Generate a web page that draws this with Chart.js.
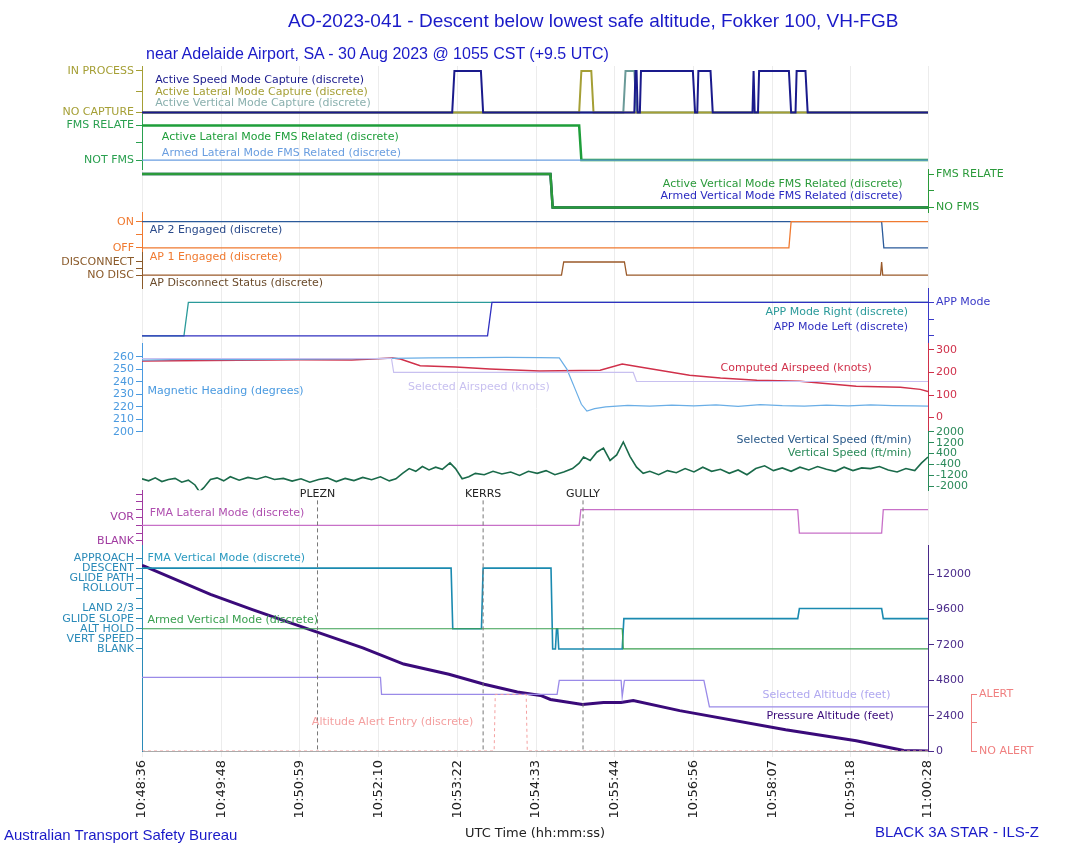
<!DOCTYPE html>
<html lang="en">
<head>
<meta charset="UTF-8" />
<title>AO-2023-041</title>
<script src="https://cdn.jsdelivr.net/npm/chart.js@4.4.0/dist/chart.umd.min.js"></script>
<style>
  body { margin: 0; background: #fff; }
  #wrap { position: relative; width: 1090px; height: 849px; }
  canvas { position: absolute; left: 0; top: 0; }
  .t { position: absolute; font-family: 'Liberation Sans', Arial, sans-serif; color: #1a1ac8; white-space: nowrap; }
</style>
</head>
<body>
<div id="wrap">
  <canvas id="chart" width="1090" height="849"></canvas>
  <div class="t" style="left:288px;top:10px;font-size:19px;">AO-2023-041 - Descent below lowest safe altitude, Fokker 100, VH-FGB</div>
  <div class="t" style="left:146px;top:45px;font-size:16px;">near Adelaide Airport, SA - 30 Aug 2023 @ 1055 CST (+9.5 UTC)</div>
  <div class="t" style="left:4px;top:826px;font-size:15px;">Australian Transport Safety Bureau</div>
  <div class="t" style="left:875px;top:823px;font-size:15px;">BLACK 3A STAR - ILS-Z</div>
</div>
<script>
// time in seconds after 10:48:36 UTC
const xTicks = [0, 72, 143, 214, 286, 357, 428, 500, 571, 642, 712];

// discrete captures (0 = NO CAPTURE, 1 = IN PROCESS)
const spdCapT = [0, 281, 283, 307, 309, 446, 447, 448, 449, 451, 452, 499, 501, 503, 504, 515, 517, 553, 554, 555, 558, 559, 586, 588, 592, 593, 601, 603, 712];
const spdCapV = [0, 0, 1, 1, 0, 0, 1, 1, 0, 0, 1, 1, 0, 0, 1, 1, 0, 0, 1, 0, 0, 1, 1, 0, 0, 1, 1, 0, 0];
const latCapT = [0, 396, 398, 407, 409, 712];
const latCapV = [0, 0, 1, 1, 0, 0];
const vrtCapT = [0, 436, 438, 446, 448, 712];
const vrtCapV = [0, 0, 1, 1, 0, 0];

// FMS related
const fmsLatT = [0, 396, 398, 712];
const fmsLatV = [1, 1, 0, 0];
const fmsLatArmV = [0, 0, 0, 0];
const fmsVrtT = [0, 370, 372, 712];
const fmsVrtV = [1, 1, 0, 0];

// autopilot
const ap2T = [0, 670, 672, 712];
const ap2V = [1, 1, 0, 0];
const ap1T = [0, 586, 588, 712];
const ap1V = [0, 0, 1, 1];
const apDiscT = [0, 380, 382, 437, 439, 669, 670, 671, 712];
const apDiscV = [0, 0, 1, 1, 0, 0, 1, 0, 0];

// approach mode
const appRT = [0, 38, 42, 712];
const appRV = [0, 0, 1, 1];
const appLT = [0, 313, 317, 712];
const appLV = [0, 0, 1, 1];

// heading (deg) and airspeeds (kt)
const hdgT = [0, 40, 90, 150, 210, 260, 300, 330, 360, 378, 385, 392, 398, 403, 410, 420, 440, 460, 480, 500, 520, 540, 560, 580, 600, 620, 640, 660, 680, 700, 712];
const hdgV = [257.5, 258, 257.8, 258.3, 258.6, 259.2, 259.5, 259.6, 259.4, 259.2, 250, 235, 222, 216.5, 218.5, 220, 221.2, 220.5, 221.4, 220.8, 221.6, 220.4, 221.8, 221, 220.6, 221.3, 220.8, 221.6, 221, 220.7, 220.5];
const casT = [0, 60, 143, 190, 227, 234, 252, 284, 315, 360, 415, 435, 451, 496, 524, 557, 596, 647, 687, 705, 712];
const casV = [251, 253, 256, 255, 264, 260, 230, 224, 215, 206, 210, 237, 224, 188, 175, 166, 161, 139, 134, 125, 116];
const selSpdT = [0, 226, 228, 445, 448, 712];
const selSpdV = [262, 262, 200, 200, 160, 160];

// vertical speed (ft/min)
const vsPoints = [[0,-1450],[6,-1600],[12,-1380],[18,-1650],[24,-1500],[30,-1420],[36,-1700],[42,-1550],[48,-1900],[52,-2400],[56,-2100],[62,-1500],[68,-1380],[74,-1600],[80,-1300],[88,-1550],[96,-1350],[104,-1480],[112,-1280],[120,-1500],[128,-1420],[136,-1620],[144,-1450],[152,-1700],[160,-1500],[168,-1380],[176,-1650],[184,-1420],[192,-1580],[200,-1350],[208,-1520],[216,-1300],[224,-1600],[230,-1450],[236,-1050],[242,-700],[248,-900],[254,-550],[260,-800],[266,-600],[272,-750],[279,-280],[284,-700],[290,-1450],[296,-1300],[302,-1050],[310,-1150],[318,-900],[326,-1100],[334,-950],[342,-1200],[350,-900],[358,-1050],[366,-850],[374,-1150],[382,-950],[390,-700],[396,-300],[400,150],[406,-100],[412,500],[418,800],[424,-100],[430,300],[436,1250],[442,200],[448,-600],[454,-1050],[460,-900],[468,-1150],[476,-850],[484,-1000],[492,-700],[500,-950],[508,-600],[516,-900],[524,-750],[532,-1050],[540,-800],[548,-1150],[556,-700],[564,-500],[572,-850],[580,-650],[588,-900],[596,-600],[604,-800],[612,-550],[620,-750],[628,-900],[636,-600],[644,-850],[652,-650],[660,-700],[668,-550],[676,-800],[684,-950],[692,-700],[700,-850],[706,-300],[712,150]];

// FMA modes (index into mode tick labels)
const fmaLatT = [0, 396, 397.5, 594, 595.5, 670, 671.5, 712];
const fmaLatV = [2, 2, 4, 4, 1, 1, 4, 4];
const fmaVrtT = [0, 280, 281.5, 307.5, 309, 370.5, 372, 374.5, 375.5, 376.5, 377.5, 435, 436.5, 594, 595.5, 670, 671.5, 712];
const fmaVrtV = [8, 8, 2, 2, 8, 8, 0, 0, 2, 2, 0, 0, 3, 3, 4, 4, 3, 3];
const armVrtT = [0, 435, 436, 712];
const armVrtV = [2, 2, 0, 0];

// altitudes (ft)
const presAltT = [0, 2, 62, 100, 158, 200, 237, 278, 310, 340, 361, 370, 399, 418, 434, 445, 487, 583, 647, 690, 712];
const presAltV = [12600, 12550, 10630, 9600, 8090, 7000, 5900, 5210, 4530, 4000, 3770, 3500, 3150, 3290, 3290, 3430, 2740, 1440, 690, 30, 0];
const selAltT = [0, 216, 217, 376, 378, 434, 435, 437, 509, 514, 712];
const selAltV = [5000, 5000, 3850, 3850, 4800, 4800, 3700, 4800, 4800, 3000, 3000];
const altAlertT = [0, 319, 320, 348, 349, 712];
const altAlertV = [0, 0, 1, 1, 0, 0];

// waypoints
const wptNames = ['PLEZN', 'KERRS', 'GULLY'];
const wptTimes = [159, 309, 399.5];

// axis tick labels
const capLabels = {1: 'IN PROCESS', 0.5: '', 0: 'NO CAPTURE'};
const fmsLabels = {1: 'FMS RELATE', 0.5: '', 0: 'NOT FMS'};
const fmsVLabels = {1: 'FMS RELATE', 0: 'NO FMS'};
const apLabels = {1: 'ON', 0.5: '', 0: 'OFF'};
const discLabels = {1: 'DISCONNECT', 0.5: '', 0: 'NO DISC'};
const appLabels = {1: 'APP Mode'};
const latModes = ['BLANK', '', '', 'VOR', '', '', ''];
const vrtModes = ['BLANK', 'VERT SPEED', 'ALT HOLD', 'GLIDE SLOPE', 'LAND 2/3', '', 'ROLLOUT', 'GLIDE PATH', 'DESCENT', 'APPROACH'];
const alertLabels = {1: 'ALERT', 0.5: '', 0: 'NO ALERT'};
const hdgTicks = [200, 210, 220, 230, 240, 250, 260];
const spdTicks = [0, 100, 200, 300];
const vsTicks = [-2000, -1200, -400, 400, 1200, 2000];
const altTicks = [0, 2400, 4800, 7200, 9600, 12000];

const FONT = 'DejaVu Sans';
Chart.defaults.font.family = FONT;
Chart.defaults.font.size = 11;

function pts(t, v) { return t.map((x, i) => ({x: x, y: v[i]})); }
function line(label, data, axis, color, width, extra) {
  return Object.assign({label: label, data: data, yAxisID: axis, borderColor: color, borderWidth: width || 1.2,
    pointRadius: 0, fill: false, tension: 0}, extra || {});
}

function yAxis(pos, stack, weight, order, width, min, max, color, ticks, labels, noBorder) {
  const shown = !!ticks;
  return {
    type: 'linear', position: pos, stack: stack, stackWeight: weight, weight: order,
    min: min, max: max,
    afterBuildTicks: shown ? (a) => { a.ticks = ticks.map(v => ({value: v})); } : undefined,
    afterFit: (a) => { a.width = width; },
    ticks: {display: shown, color: color, padding: 2, autoSkip: false,
      callback: (v) => labels === null ? '' : (labels ? (labels[v] !== undefined ? labels[v] : '') : v)},
    grid: {display: shown, drawOnChartArea: false, color: color, tickLength: 6},
    border: {display: shown && !noBorder, color: color}
  };
}
function idx(arr) { return arr.map((_, i) => i); }
function tbl(arr) { const o = {}; arr.forEach((s, i) => { o[i] = s; }); return o; }

const LW = 137, RW = 43;
const scales = {
  x: {
    type: 'linear', min: 0, max: 712,
    afterBuildTicks: (a) => { a.ticks = xTicks.map(v => ({value: v})); },
    ticks: {
      minRotation: 90, maxRotation: 90, color: '#222', font: {size: 13},
      callback: (v) => {
        const s = 10 * 3600 + 48 * 60 + 36 + Math.round(v);
        const p = (n) => String(n).padStart(2, '0');
        return p(Math.floor(s / 3600)) + ':' + p(Math.floor(s / 60) % 60) + ':' + p(s % 60);
      }
    },
    grid: {color: '#ececec', tickLength: 6},
    border: {color: '#aaa'},
    title: {display: true, text: 'UTC Time (hh:mm:ss)', color: '#222', font: {size: 13}, padding: {top: 4}}
  },
  yL1: yAxis('left', 'L', 48, 20, LW, -0.05, 1.12, '#a59f35', [0, 0.5, 1], capLabels),
  yL2: yAxis('left', 'L', 54, 19, LW, -0.26, 1.32, '#2aa050', [0, 0.5, 1], fmsLabels),
  yL3: yAxis('left', 'L', 43, 18, LW, -0.15, 1.15, '#000'),
  yL4: yAxis('left', 'L', 40, 17, LW, -0.19, 1.35, '#f07a30', [0, 0.5, 1], apLabels),
  yL5: yAxis('left', 'L', 35, 16, LW, -1, 1.69, '#8a5a2a', [0, 0.5, 1], discLabels),
  yL6: yAxis('left', 'L', 55, 15, LW, -0.24, 1.42, '#000'),
  yL7: yAxis('left', 'L', 87, 14, LW, 200, 270.5, '#4a9ae0', hdgTicks),
  yL8: yAxis('left', 'L', 58, 13, LW, -2296, 2000, '#000'),
  yL9: yAxis('left', 'L', 55, 12, LW, -0.65, 6.49, '#a03aa0', idx(latModes), tbl(latModes)),
  yL10: yAxis('left', 'L', 203, 11, LW, -10.1, 10.2, '#2a8ab8', idx(vrtModes), tbl(vrtModes)),
  yR1: yAxis('right', 'R', 48, 1, RW, -0.05, 1.12, '#000'),
  yR2: yAxis('right', 'R', 54, 2, RW, -0.26, 1.32, '#000'),
  yR3: yAxis('right', 'R', 43, 3, RW, -0.15, 1.15, '#2a9a3a', [0, 0.5, 1], null),
  yR4: yAxis('right', 'R', 40, 4, RW, -0.19, 1.35, '#000'),
  yR5: yAxis('right', 'R', 35, 5, RW, -1, 1.69, '#000'),
  yR6: yAxis('right', 'R', 55, 6, RW, -0.24, 1.42, '#3a3ac8', [0, 0.5, 1], null),
  yR7: yAxis('right', 'R', 87, 7, RW, -63, 327, '#d0304a', spdTicks),
  yR8: yAxis('right', 'R', 58, 8, RW, -2296, 2000, '#2a8a5a', vsTicks),
  yR9: yAxis('right', 'R', 55, 9, RW, -0.65, 6.49, '#000'),
  yR10: yAxis('right', 'R', 203, 10, RW, 0, 13920, '#4a2a8a', altTicks),
  yS1: yAxis('right', 'S', 475, 30, 117, 0, 1, '#000'),
  yS2: yAxis('right', 'S', 203, 31, 117, 0, 3.625, '#f08080', [0, 0.5, 1], alertLabels, true)
};

// right-hand discrete labels drawn beside their axes (wider than the axis column)
const sideLabels = [['yR3', fmsVLabels, '#2a9a3a'], ['yR6', appLabels, '#3a3ac8']];

const datasets = [
  line('Active Speed Mode Capture', pts(spdCapT, spdCapV), 'yL1', '#1a1a8c', 2),
  line('Active Lateral Mode Capture', pts(latCapT, latCapV), 'yL1', '#a59f35', 2),
  line('Active Vertical Mode Capture', pts(vrtCapT, vrtCapV), 'yL1', '#6a9a98', 2),
  line('Armed Lateral Mode FMS Related', pts(fmsLatT, fmsLatArmV), 'yL2', '#6a9ee0', 1.2),
  line('Active Lateral Mode FMS Related', pts(fmsLatT, fmsLatV), 'yL2', '#1e9e3a', 2.5),
  line('Active Vertical Mode FMS Related', pts(fmsVrtT, fmsVrtV), 'yR3', '#2a9a3a', 2.5),
  line('Armed Vertical Mode FMS Related', pts(fmsVrtT, fmsVrtV), 'yR3', '#0a2a6a', 2.5),
  line('AP 1 Engaged', pts(ap1T, ap1V), 'yL4', '#f07a30', 1.3),
  line('AP 2 Engaged', pts(ap2T, ap2V), 'yL4', '#2a5a9a', 1.3),
  line('AP Disconnect Status', pts(apDiscT, apDiscV), 'yL5', '#9a5a2a', 1.3),
  line('APP Mode Left', pts(appLT, appLV), 'yR6', '#3030c0', 1.3),
  line('APP Mode Right', pts(appRT, appRV), 'yR6', '#2a9a9a', 1.3),
  line('Selected Airspeed', pts(selSpdT, selSpdV), 'yR7', '#c8c0f0', 1.2),
  line('Magnetic Heading', pts(hdgT, hdgV), 'yL7', '#6aaee6', 1.2),
  line('Computed Airspeed', pts(casT, casV), 'yR7', '#d0304a', 1.5),
  line('Vertical Speed', vsPoints.map(p => ({x: p[0], y: p[1]})), 'yR8', '#1a6a4a', 1.6),
  line('FMA Lateral Mode', pts(fmaLatT, fmaLatV), 'yL9', '#c870c8', 1.3),
  line('Armed Vertical Mode', pts(armVrtT, armVrtV), 'yL10', '#3aa050', 1.2),
  line('FMA Vertical Mode', pts(fmaVrtT, fmaVrtV), 'yL10', '#1a8ab0', 1.6),
  line('Altitude Alert Entry', pts(altAlertT, altAlertV), 'yS2', '#f4a0a0', 1, {borderDash: [3, 3]}),
  line('Selected Altitude', pts(selAltT, selAltV), 'yR10', '#9a8ae8', 1.3),
  line('Pressure Altitude', pts(presAltT, presAltV), 'yR10', '#3a0a7a', 3)
];

// in-plot series labels: [text, t, axis, value, color, align]
const notes = [
  ['Active Speed Mode Capture (discrete)', 12, 'yL1', 0.78, '#1a1a8c', 'left'],
  ['Active Lateral Mode Capture (discrete)', 12, 'yL1', 0.5, '#a59f35', 'left'],
  ['Active Vertical Mode Capture (discrete)', 12, 'yL1', 0.22, '#8ab0ae', 'left'],
  ['Active Lateral Mode FMS Related (discrete)', 18, 'yL2', 0.65, '#1e9e3a', 'left'],
  ['Armed Lateral Mode FMS Related (discrete)', 18, 'yL2', 0.21, '#6a9ee0', 'left'],
  ['Active Vertical Mode FMS Related (discrete)', 689, 'yR3', 0.7, '#2a9a3a', 'right'],
  ['Armed Vertical Mode FMS Related (discrete)', 689, 'yR3', 0.33, '#2a2ac0', 'right'],
  ['AP 2 Engaged (discrete)', 7, 'yL4', 0.68, '#2a4a8a', 'left'],
  ['AP 1 Engaged (discrete)', 7, 'yL5', 1.38, '#f07a30', 'left'],
  ['AP Disconnect Status (discrete)', 7, 'yL5', -0.62, '#6a4a2a', 'left'],
  ['APP Mode Right (discrete)', 694, 'yR6', 0.72, '#2a9a9a', 'right'],
  ['APP Mode Left (discrete)', 694, 'yR6', 0.26, '#3030c0', 'right'],
  ['Magnetic Heading (degrees)', 5, 'yL7', 232.4, '#4a9ae0', 'left'],
  ['Selected Airspeed (knots)', 241, 'yR7', 134, '#c8c0f0', 'left'],
  ['Computed Airspeed (knots)', 661, 'yR7', 219, '#d0304a', 'right'],
  ['Selected Vertical Speed (ft/min)', 697, 'yR8', 1407, '#2a5a8a', 'right'],
  ['Vertical Speed (ft/min)', 697, 'yR8', 444, '#2a8a5a', 'right'],
  ['FMA Lateral Mode (discrete)', 7, 'yL9', 3.5, '#b050b0', 'left'],
  ['FMA Vertical Mode (discrete)', 5, 'yL10', 9, '#2a9ac0', 'left'],
  ['Armed Vertical Mode (discrete)', 5, 'yL10', 2.9, '#3aa050', 'left'],
  ['Selected Altitude (feet)', 678, 'yR10', 3770, '#b0a8f0', 'right'],
  ['Pressure Altitude (feet)', 681, 'yR10', 2400, '#3a0a7a', 'right'],
  ['Altitude Alert Entry (discrete)', 227, 'yR10', 1990, '#f4a0a0', 'center']
];

const annotate = {
  id: 'annotate',
  afterDraw(chart) {
    const c = chart.ctx, x = chart.scales.x, area = chart.chartArea;
    c.save();
    // waypoint markers
    const y9 = chart.scales.yL9;
    c.font = '11px ' + FONT;
    c.textAlign = 'center';
    c.textBaseline = 'middle';
    wptNames.forEach((n, i) => {
      const px = x.getPixelForValue(wptTimes[i]);
      c.strokeStyle = '#777';
      c.lineWidth = 1;
      c.setLineDash([4, 3]);
      c.beginPath();
      c.moveTo(px, y9.getPixelForValue(5.2));
      c.lineTo(px, area.bottom);
      c.stroke();
      c.fillStyle = '#222';
      c.fillText(n, px, y9.getPixelForValue(6));
    });
    c.setLineDash([]);
    // bracket for the alert axis
    const s2 = chart.scales.yS2;
    c.strokeStyle = '#f08080';
    c.lineWidth = 1;
    c.beginPath();
    c.moveTo(s2.left + 0.5, s2.getPixelForValue(1));
    c.lineTo(s2.left + 0.5, s2.getPixelForValue(0));
    c.stroke();
    c.textAlign = 'left';
    sideLabels.forEach(([ax, map, color]) => {
      const s = chart.scales[ax];
      c.fillStyle = color;
      Object.keys(map).forEach((v) => c.fillText(map[v], s.left + 8, s.getPixelForValue(+v)));
    });
    notes.forEach(([text, t, ax, v, color, align]) => {
      c.fillStyle = color;
      c.textAlign = align;
      c.fillText(text, x.getPixelForValue(t), chart.scales[ax].getPixelForValue(v));
    });
    c.restore();
  }
};

const chart = new Chart(document.getElementById('chart'), {
  type: 'line',
  data: {datasets: datasets},
  options: {
    responsive: false,
    animation: false,
    layout: {padding: {top: 66, left: 5, right: 2, bottom: 4}},
    plugins: {legend: {display: false}, tooltip: {enabled: false}},
    scales: scales
  },
  plugins: [annotate]
});
</script>
</body>
</html>
